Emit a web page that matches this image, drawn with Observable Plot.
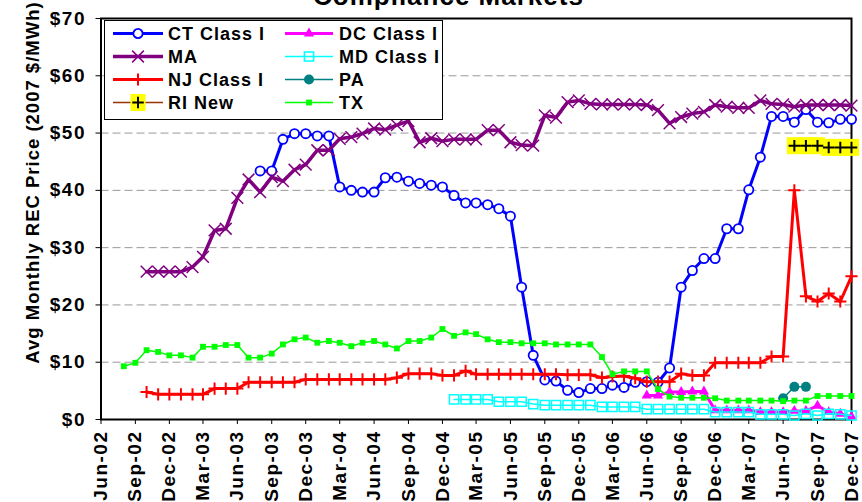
<!DOCTYPE html>
<html><head><meta charset="utf-8">
<script src="https://cdn.jsdelivr.net/npm/d3@7"></script>
<script src="https://cdn.jsdelivr.net/npm/@observablehq/plot@0.6"></script>
<style>
html,body{margin:0;padding:0;background:#fff;}
#chart{position:relative;width:862px;height:502px;overflow:hidden;}
#chart svg text{font-family:"Liberation Sans",Arial,sans-serif;font-weight:bold;letter-spacing:1px;fill:#000;}
#chart svg g[aria-label="x-axis tick label"] text,
#chart svg g[aria-label="y-axis tick label"] text{letter-spacing:1.5px;}
</style></head><body><div id="chart"></div>
<script>
// ---- data ----
const tickLabels = ["Jun-02","Sep-02","Dec-02","Mar-03","Jun-03","Sep-03","Dec-03","Mar-04","Jun-04","Sep-04","Dec-04",
  "Mar-05","Jun-05","Sep-05","Dec-05","Mar-06","Jun-06","Sep-06","Dec-06","Mar-07","Jun-07","Sep-07","Dec-07"];
const yTicks = [0,10,20,30,40,50,60,70];
const gridValues = [10,20,30,40,50,60];

const ctStart = "Aug-03";
const ctValues = [43.4,43.4,48.9,49.9,49.9,
  49.5,49.5,40.6,40.0,39.7,39.7,42.2,42.3,41.6,41.2,40.9,40.6,
  39.1,37.8,37.8,37.5,36.8,35.5,23.1,11.2,6.9,6.7,5.1,4.7,
  5.4,5.4,6.0,5.6,6.5,6.6,6.5,9.0,23.1,26.0,28.1,28.1,
  33.3,33.3,40.1,45.8,52.9,52.9,51.9,54.1,51.9,51.8,52.4,52.4];

const maStart = "Oct-02";
const maValues = [25.8,25.8,25.8,
  25.8,26.6,28.4,33.0,33.3,38.7,41.9,39.7,42.3,41.6,43.6,44.5,
  47.0,47.0,49.0,49.3,49.9,50.8,50.6,51.4,52.1,48.4,49.1,48.6,
  48.9,48.9,48.9,50.5,50.5,48.4,47.9,47.8,53.1,52.7,55.4,55.7,
  55.1,55.0,55.0,55.0,55.0,54.9,54.0,51.7,52.8,53.4,53.7,54.9,
  54.6,54.4,54.4,55.7,55.1,55.0,54.6,54.9,54.9,54.9,54.9,54.8];

const njStart = "Oct-02";
const njValues = [4.8,4.4,4.4,
  4.4,4.4,4.4,5.4,5.4,5.4,6.5,6.5,6.5,6.5,6.5,7.0,
  7.0,7.0,7.0,7.0,7.0,7.0,7.0,7.3,8.0,8.0,8.0,7.7,
  7.7,8.5,7.9,7.9,7.9,7.9,7.9,7.9,7.9,7.9,7.8,7.8,
  7.8,7.3,7.5,7.6,7.2,6.6,6.6,6.6,8.0,7.7,7.7,9.9,
  9.9,9.9,9.9,9.9,11.0,11.0,40.0,21.5,20.6,22.0,20.6,25.0];

const riStart = "Jul-07";
const riValues = [47.8,47.8,47.8,47.5,47.5,47.5];

const dcStart = "Jun-06";
const dcValues = [4.2,4.2,4.8,4.8,4.9,4.9,1.6,1.6,1.6,1.6,1.3,1.3,1.3,1.5,1.5,2.4,1.3,1.0,0.5];

const mdStart = "Jan-05";
const mdValues = [3.5,3.5,3.5,3.5,3.1,3.1,3.1,2.7,2.5,2.5,2.5,2.5,
  2.5,2.2,2.2,2.2,2.2,1.8,1.8,1.8,1.8,1.8,1.8,1.3,
  1.3,1.3,1.3,0.9,0.9,0.9,0.7,1.0,0.7,1.0,0.9,0.7];

const paStart = "Jun-07";
const paValues = [3.7,5.7,5.7];

const txStart = "Aug-02";
const txValues = [9.3,9.9,12.1,11.8,11.2,
  11.2,10.8,12.7,12.7,13.0,13.0,10.8,10.8,11.5,13.1,14.0,14.3,
  13.4,13.7,13.4,12.8,13.4,13.7,13.1,12.4,13.7,13.7,14.3,15.8,
  14.6,15.2,14.9,14.0,13.5,13.5,13.3,13.3,13.3,13.1,13.1,13.1,
  13.1,10.9,7.9,8.4,8.4,8.4,5.3,4.0,3.8,3.8,3.8,3.7,
  3.3,3.3,3.3,3.3,3.3,3.2,3.3,3.3,4.1,4.1,4.1,4.1];

// ---- build ----
const parse = d3.utcParse("%b-%y");
const fmt = d3.utcFormat("%b-%y");
const tickDates = tickLabels.map(parse);
function series(start, values){
  const s = parse(start);
  return values.map((v,i)=>({date: d3.utcMonth.offset(s,i), value: v}));
}

const yellowBox = {draw(ctx){ ctx.rect(-7.5,-8.5,15,17); }};

const styles = [
  {name:"CT Class I", data:series(ctStart,ctValues), line:"#0000FF", lw:3, sym:"circle", r:4.6, fill:"white", stroke:"#0000FF", sw:1.8},
  {name:"DC Class I", data:series(dcStart,dcValues), line:"#FF00FF", lw:3, sym:"triangle", r:3.8, fill:"#FF00FF", stroke:"none", sw:0},
  {name:"MA", data:series(maStart,maValues), line:"#800080", lw:3.5, sym:"times", r:5.4, fill:"none", stroke:"#800080", sw:1.5},
  {name:"MD Class I", data:series(mdStart,mdValues), line:"#00FFFF", lw:1.5, sym:"square", r:5.2, fill:"none", stroke:"#00FFFF", sw:1.5},
  {name:"NJ Class I", data:series(njStart,njValues), line:"#FF0000", lw:3, sym:"plus", r:4, fill:"none", stroke:"#FF0000", sw:2},
  {name:"PA", data:series(paStart,paValues), line:"#008080", lw:1.5, sym:"circle", r:5, fill:"#008080", stroke:"none", sw:0},
  {name:"RI New", data:series(riStart,riValues), line:"#993300", lw:1.5, sym:"plus", r:3.8, fill:"none", stroke:"#000000", sw:2, box:true},
  {name:"TX", data:series(txStart,txValues), line:"#00FF00", lw:1.5, sym:"square", r:3.3, fill:"#00FF00", stroke:"none", sw:0}
];

const seriesMarks = [];
for (const s of styles) {
  seriesMarks.push(Plot.line(s.data, {x:"date", y:"value", stroke:s.line, strokeWidth:s.lw}));
  if (s.box) seriesMarks.push(Plot.dot(s.data, {x:"date", y:"value", symbol:yellowBox, r:5, fill:"#FFFF00", stroke:"none"}));
  seriesMarks.push(Plot.dot(s.data, {x:"date", y:"value", symbol:s.sym, r:s.r, fill:s.fill, stroke:s.stroke, strokeWidth:s.sw}));
}

const plot = Plot.plot({
  width: 862, height: 502,
  marginLeft: 100.5, marginRight: 11, marginTop: 18, marginBottom: 83,
  x: {type:"utc", domain:[tickDates[0], tickDates[tickDates.length-1]]},
  y: {domain:[0,70]},
  style: {fontFamily:"Liberation Sans, Arial, sans-serif", fontSize:"18px", background:"white"},
  marks: [
    Plot.gridY(gridValues, {stroke:"#999", strokeOpacity:1, strokeDasharray:"8,4"}),
    Plot.frame({stroke:"black", strokeWidth:2}),
    Plot.axisY(yTicks, {tickFormat:d=>"$"+d, tickSize:5, tickPadding:10, fontSize:19, fontWeight:"bold", label:null, stroke:"black"}),
    Plot.axisX(tickDates, {tickFormat:fmt, tickRotate:-90, tickSize:5, tickPadding:6, fontSize:19, fontWeight:"bold", label:null, stroke:"black"}),
    ...seriesMarks
  ]
});
document.getElementById("chart").appendChild(plot);

// ---- title, axis title, legend ----
const svg = d3.select(plot);
svg.append("text").attr("x",313).attr("y",5).attr("font-size",26).attr("text-anchor","start").text("Compliance Markets");
svg.append("text").attr("transform","translate(39,182.5) rotate(-90)").attr("text-anchor","middle")
  .attr("font-size",18.5).text("Avg Monthly REC Price (2007 $/MWh)");

const symMap = {circle:d3.symbolCircle, triangle:d3.symbolTriangle, times:d3.symbolTimes, square:d3.symbolSquare, plus:d3.symbolPlus};
const lg = svg.append("g");
lg.append("rect").attr("x",104.5).attr("y",20.5).attr("width",338).attr("height",99)
  .attr("fill","white").attr("stroke","black").attr("stroke-width",1);
styles.forEach((s,i)=>{
  const col = i%2, row = Math.floor(i/2);
  const cy = 33.5 + row*23;
  const x0 = col ? 285 : 113, x1 = col ? 333 : 163, mx = (x0+x1)/2, tx = col ? 339 : 168;
  lg.append("line").attr("x1",x0).attr("x2",x1).attr("y1",cy).attr("y2",cy)
    .attr("stroke",s.line).attr("stroke-width",s.lw);
  if (s.box) lg.append("rect").attr("x",mx-7.5).attr("y",cy-8.5).attr("width",15).attr("height",17).attr("fill","#FFFF00");
  lg.append("path").attr("transform",`translate(${mx},${cy})`)
    .attr("d", d3.symbol(symMap[s.sym], Math.PI*s.r*s.r)())
    .attr("fill",s.fill).attr("stroke",s.stroke).attr("stroke-width",s.sw);
  lg.append("text").attr("x",tx).attr("y",cy+6.5).attr("font-size",18).attr("text-anchor","start").text(s.name);
});
</script></body></html>
